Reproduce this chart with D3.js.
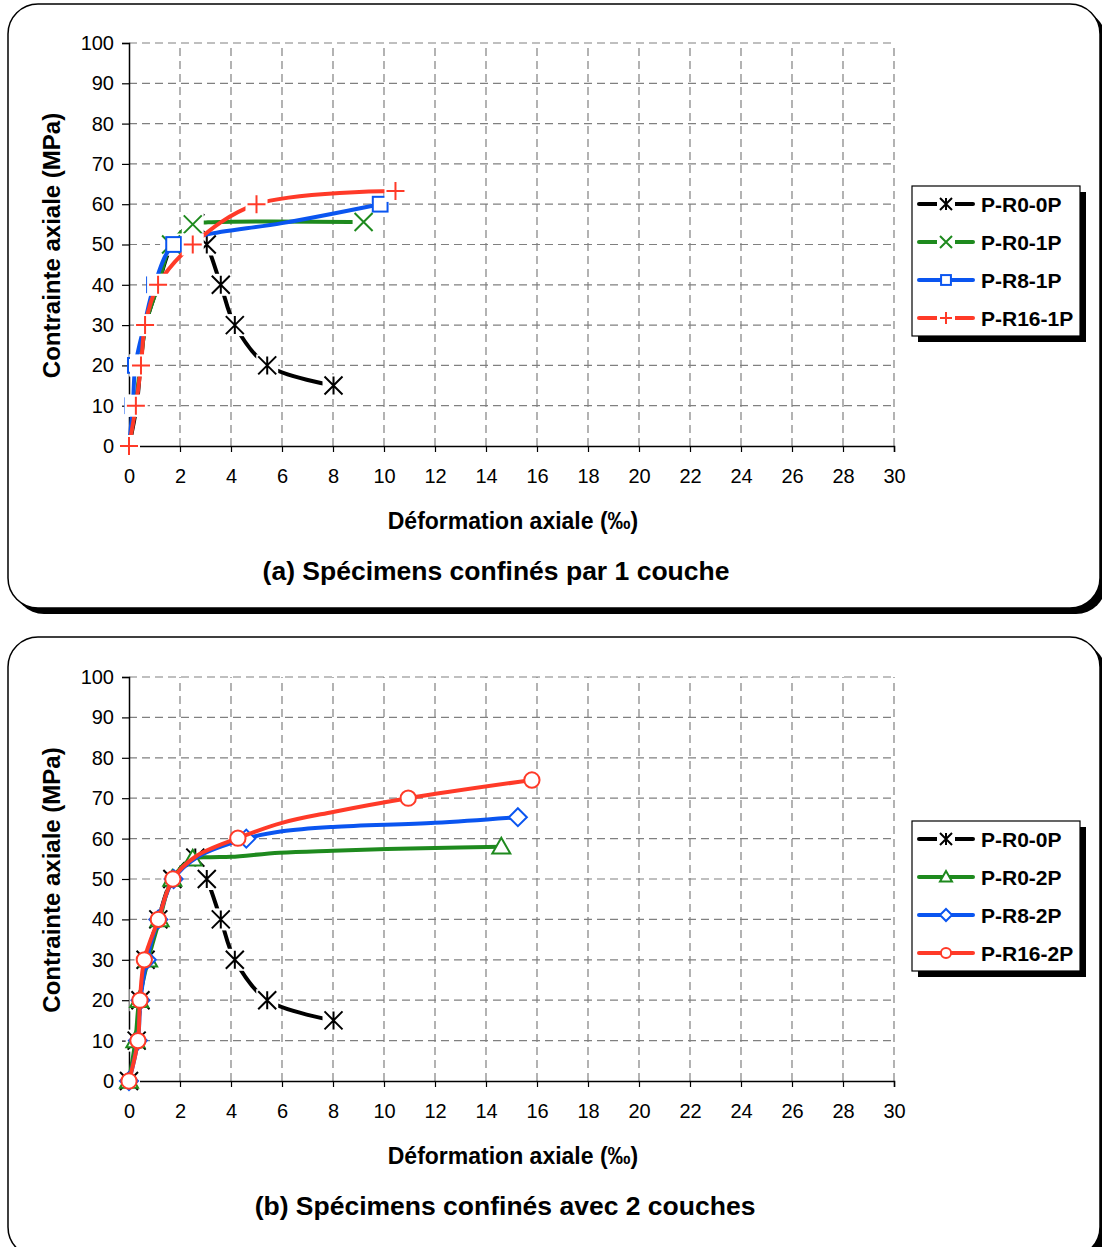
<!DOCTYPE html>
<html>
<head>
<meta charset="utf-8">
<script src="https://cdn.jsdelivr.net/npm/d3@7"></script>
<style>
  html, body { margin: 0; padding: 0; background: #fff; }
  svg { display: block; font-family: "Liberation Sans", Arial, Helvetica, sans-serif; }
</style>
</head>
<body>
<svg id="chart" width="1102" height="1247"></svg>
<script>
// ---------- DATA (x = déformation ‰, y = contrainte MPa, m = marker shown) ----------
const xTicks = [0, 2, 4, 6, 8, 10, 12, 14, 16, 18, 20, 22, 24, 26, 28, 30];
const yTicks = [0, 10, 20, 30, 40, 50, 60, 70, 80, 90, 100];

const xTitle = "Déformation axiale (‰)";
const yTitle = "Contrainte axiale (MPa)";
const captionA = "(a) Spécimens confinés par 1 couche";
const captionB = "(b) Spécimens confinés avec 2 couches";

const namesA = ["P-R0-0P", "P-R0-1P", "P-R8-1P", "P-R16-1P"];
const namesB = ["P-R0-0P", "P-R0-2P", "P-R8-2P", "P-R16-2P"];

const pR00P = [
  [0, 0, 1], [0.3, 10, 1], [0.45, 20, 1], [0.65, 30, 1], [1.15, 40, 1], [1.7, 50, 1],
  [2.6, 55.3, 1], [3.05, 50, 1], [3.6, 40, 1], [4.15, 30, 1], [5.42, 20, 1], [8.02, 15, 1]
];
const pR01P = [
  [0, 0, 1], [0.25, 10, 1], [0.45, 20, 1], [0.65, 30, 1], [1.15, 40, 1], [1.65, 50, 1],
  [2.5, 55, 1], [3.1, 55.5, 0], [9.2, 55.6, 1]
];
const pR81P = [
  [0, 0, 1], [0.15, 10, 1], [0.25, 20, 1], [0.6, 30, 1], [1.0, 40, 1], [1.75, 50, 1],
  [3.0, 52.4, 0], [6, 55.3, 0], [9.85, 60, 1]
];
const pR161P = [
  [0, 0, 1], [0.27, 10, 1], [0.47, 20, 1], [0.63, 30, 1], [1.14, 40, 1], [2.5, 50, 1],
  [5.0, 60, 1], [10.45, 63.3, 1]
];
const pR02P = [
  [0, 0, 1], [0.25, 10, 1], [0.4, 20, 1], [0.75, 30, 1], [1.2, 40, 1], [1.7, 50, 1],
  [2.5, 55, 1], [3.2, 55.4, 0], [4.0, 55.5, 0], [5.9, 56.5, 0], [8, 57, 0], [12, 57.7, 0], [14.6, 58, 1]
];
const pR82P = [
  [0, 0, 1], [0.35, 10, 1], [0.45, 20, 1], [0.7, 30, 1], [1.15, 40, 1], [1.75, 50, 1],
  [2.7, 55.5, 0], [4.6, 60, 1], [6, 61.8, 0], [8, 62.9, 0], [12, 63.9, 0], [15.25, 65.3, 1]
];
const pR162P = [
  [0, 0, 1], [0.35, 10, 1], [0.43, 20, 1], [0.6, 30, 1], [1.15, 40, 1], [1.72, 50, 1],
  [2.6, 55.5, 0], [4.27, 60.1, 1], [6, 63.9, 0], [8, 66.6, 0], [10.95, 70, 1], [15.8, 74.5, 1]
];

// ---------- STYLES ----------
const C_BLACK = "#000000", C_GREEN = "#1e8a1e", C_BLUE = "#0a55f0", C_RED = "#ff3a28";

const seriesA = [
  { name: namesA[0], data: pR00P, color: C_BLACK, marker: "asterisk" },
  { name: namesA[1], data: pR01P, color: C_GREEN, marker: "cross" },
  { name: namesA[2], data: pR81P, color: C_BLUE, marker: "square" },
  { name: namesA[3], data: pR161P, color: C_RED, marker: "plus" }
];
const seriesB = [
  { name: namesB[0], data: pR00P, color: C_BLACK, marker: "asterisk" },
  { name: namesB[1], data: pR02P, color: C_GREEN, marker: "triangle" },
  { name: namesB[2], data: pR82P, color: C_BLUE, marker: "diamond" },
  { name: namesB[3], data: pR162P, color: C_RED, marker: "circle" }
];

const svg = d3.select("#chart");

function drawMarker(g, type, color, s, bg) {
  const open = (type === "asterisk" || type === "cross" || type === "plus");
  if (open && bg > 0) {
    g.append("rect").attr("x", -bg).attr("y", -bg).attr("width", 2 * bg).attr("height", 2 * bg)
      .attr("fill", "#fff");
  }
  if (type === "asterisk") {
    g.append("path").attr("d", `M${-s},${-s}L${s},${s}M${-s},${s}L${s},${-s}M0,${-s}L0,${s}`)
      .attr("stroke", color).attr("stroke-width", 2).attr("fill", "none");
  } else if (type === "cross") {
    g.append("path").attr("d", `M${-s},${-s}L${s},${s}M${-s},${s}L${s},${-s}`)
      .attr("stroke", color).attr("stroke-width", 2).attr("fill", "none");
  } else if (type === "plus") {
    g.append("path").attr("d", `M${-s},0L${s},0M0,${-s}L0,${s}`)
      .attr("stroke", color).attr("stroke-width", 2).attr("fill", "none");
  } else if (type === "square") {
    const q = s * 0.82;
    g.append("rect").attr("x", -q).attr("y", -q).attr("width", 2 * q).attr("height", 2 * q)
      .attr("fill", "#fff").attr("stroke", color).attr("stroke-width", 2);
  } else if (type === "triangle") {
    g.append("path").attr("d", `M0,${-s}L${s},${s * 0.75}L${-s},${s * 0.75}Z`)
      .attr("fill", "#fff").attr("stroke", color).attr("stroke-width", 2);
  } else if (type === "diamond") {
    g.append("path").attr("d", `M0,${-s}L${s},0L0,${s}L${-s},0Z`)
      .attr("fill", "#fff").attr("stroke", color).attr("stroke-width", 2);
  } else if (type === "circle") {
    g.append("circle").attr("r", s * 0.85)
      .attr("fill", "#fff").attr("stroke", color).attr("stroke-width", 2);
  }
}

function panel(y0, h) {
  const x0 = 8, w = 1092, r = 30;
  svg.append("rect").attr("x", x0 + 6).attr("y", y0 + 6).attr("width", w).attr("height", h)
    .attr("rx", r).attr("ry", r).attr("fill", "#000");
  svg.append("rect").attr("x", x0).attr("y", y0).attr("width", w).attr("height", h)
    .attr("rx", r).attr("ry", r).attr("fill", "#fff").attr("stroke", "#000").attr("stroke-width", 1.5);
}

function chart(cfg) {
  const x = d3.scaleLinear().domain([0, 30]).range([129, 894]);
  const y = d3.scaleLinear().domain([0, 100]).range([cfg.yBottom, cfg.yTop]);
  const g = svg.append("g");

  // grid
  g.append("g").selectAll("line").data(yTicks.filter(d => d > 0)).join("line")
    .attr("x1", x(0)).attr("x2", x(30)).attr("y1", d => y(d)).attr("y2", d => y(d))
    .attr("stroke", "#808080").attr("stroke-width", 1.2).attr("stroke-dasharray", "8,5");
  g.append("g").selectAll("line").data(xTicks.filter(d => d > 0)).join("line")
    .attr("x1", d => x(d)).attr("x2", d => x(d)).attr("y1", y(0)).attr("y2", y(100))
    .attr("stroke", "#808080").attr("stroke-width", 1.2).attr("stroke-dasharray", "8,5");

  // axes
  const xAxis = g.append("g").attr("transform", `translate(0,${y(0)})`)
    .call(d3.axisBottom(x).tickValues(xTicks).tickSize(6).tickPadding(17).tickFormat(d3.format("d")));
  const yAxis = g.append("g").attr("transform", `translate(${x(0)},0)`)
    .call(d3.axisLeft(y).tickValues(yTicks).tickSize(7).tickPadding(8).tickFormat(d3.format("d")));
  [xAxis, yAxis].forEach(a => {
    a.select(".domain").attr("stroke", "#000").attr("stroke-width", 1.5);
    a.selectAll(".tick line").attr("stroke", "#000").attr("stroke-width", 1.2);
    a.selectAll(".tick text").attr("font-size", 20).attr("fill", "#000")
      .attr("font-family", "'Liberation Sans', Arial, sans-serif");
  });

  // series
  const line = d3.line().x(d => x(d[0])).y(d => y(d[1])).curve(d3.curveCatmullRom.alpha(0.5));
  cfg.series.forEach(s => {
    g.append("path").attr("d", line(s.data)).attr("fill", "none")
      .attr("stroke", s.color).attr("stroke-width", 4).attr("stroke-linejoin", "round")
      .attr("stroke-linecap", "round");
    s.data.filter(d => d[2]).forEach(d => {
      const mg = g.append("g").attr("transform", `translate(${x(d[0])},${y(d[1])})`);
      drawMarker(mg, s.marker, s.color, 9, 11);
    });
  });

  // titles
  g.append("text").attr("x", 513).attr("y", cfg.yBottom + 75).attr("text-anchor", "middle")
    .attr("dy", "0.35em").attr("font-size", 23).attr("font-weight", "bold").text(xTitle);
  g.append("text").attr("transform", `translate(60,${(cfg.yBottom + cfg.yTop) / 2 + 1}) rotate(-90)`)
    .attr("text-anchor", "middle").attr("font-size", 24).attr("font-weight", "bold").text(yTitle);
  g.append("text").attr("x", cfg.capX).attr("y", cfg.yBottom + 125).attr("text-anchor", "middle")
    .attr("dy", "0.35em").attr("font-size", 26.5).attr("font-weight", "bold").text(cfg.caption);

  // legend
  const lx = 912, ly = cfg.legendTop, lw = 168, lh = 150;
  g.append("rect").attr("x", lx + 6).attr("y", ly + 6).attr("width", lw).attr("height", lh).attr("fill", "#000");
  g.append("rect").attr("x", lx).attr("y", ly).attr("width", lw).attr("height", lh)
    .attr("fill", "#fff").attr("stroke", "#000").attr("stroke-width", 1.2);
  cfg.series.forEach((s, i) => {
    const cy = ly + 18 + i * 38;
    g.append("line").attr("x1", 919).attr("x2", 973).attr("y1", cy).attr("y2", cy)
      .attr("stroke", s.color).attr("stroke-width", 4).attr("stroke-linecap", "round");
    const mg = g.append("g").attr("transform", `translate(946,${cy})`);
    drawMarker(mg, s.marker, s.color, 6, 9);
    g.append("text").attr("x", 981).attr("y", cy).attr("dy", "0.36em")
      .attr("font-size", 21).attr("font-weight", "bold").text(s.name);
  });
}

panel(4, 604);
panel(637, 620);

chart({ yTop: 43, yBottom: 446, series: seriesA, caption: captionA, capX: 496, legendTop: 186 });
chart({ yTop: 677, yBottom: 1081, series: seriesB, caption: captionB, capX: 505, legendTop: 821 });
</script>
</body>
</html>
